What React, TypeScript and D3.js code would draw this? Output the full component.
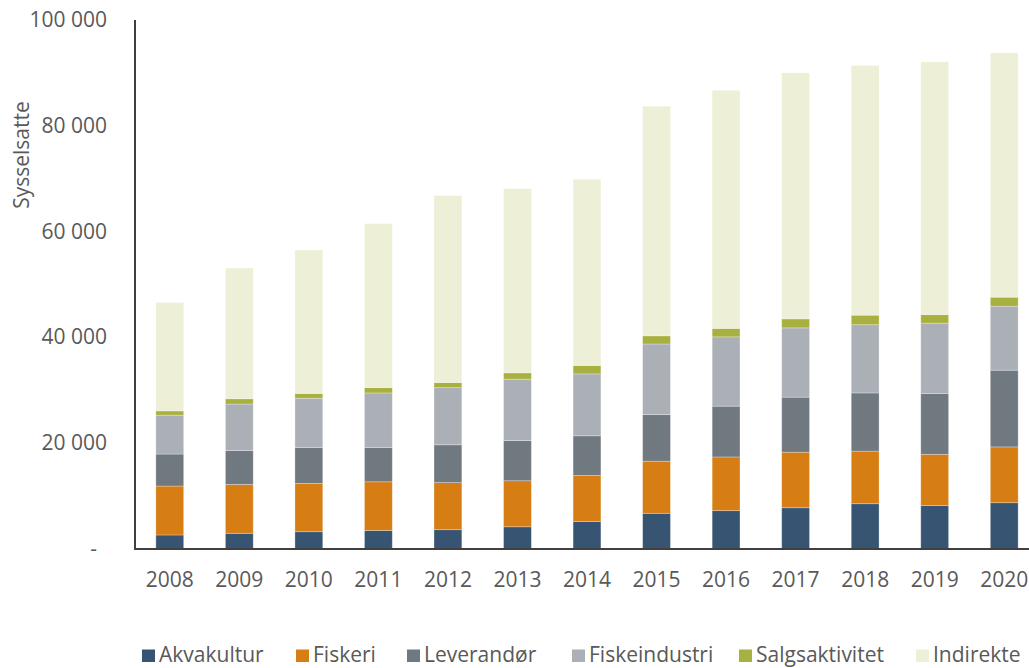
import React from "react";
import * as d3 from "d3";

const years = ["2008","2009","2010","2011","2012","2013","2014","2015","2016","2017","2018","2019","2020"];
const akvakultur = [2650, 2970, 3270, 3500, 3650, 4200, 5200, 6750, 7250, 7800, 8560, 8200, 8750];
const fiskeri = [9250, 9230, 9130, 9200, 8900, 8700, 8700, 9850, 10150, 10500, 9940, 9700, 10550];
const leverandor = [6050, 6400, 6800, 6500, 7150, 7600, 7500, 8800, 9600, 10400, 11000, 11500, 14500];
const fiskeindustri = [7350, 8800, 9300, 10300, 10800, 11600, 11700, 13350, 13100, 13100, 12900, 13300, 12100];
const salgsaktivitet = [800, 1000, 900, 1000, 950, 1200, 1600, 1550, 1600, 1700, 1800, 1600, 1700];
const indirekte = [20500, 24700, 27100, 31000, 35350, 34800, 35200, 43400, 45000, 46500, 47200, 47800, 46200];

const seriesNames = ["Akvakultur", "Fiskeri", "Leverandør", "Fiskeindustri", "Salgsaktivitet", "Indirekte"];
const seriesValues = [akvakultur, fiskeri, leverandor, fiskeindustri, salgsaktivitet, indirekte];
const seriesColors = ["#375572", "#D67D14", "#707880", "#AAB0B6", "#A8B13F", "#EDEFD6"];
const yTicks = [0, 20000, 40000, 60000, 80000, 100000];
const yTickLabels = ["-", "20 000", "40 000", "60 000", "80 000", "100 000"];

const W = 1029;
const H = 668;
const FONT = "'Open Sans', 'Liberation Sans', sans-serif";
const legendX = [142, 296, 407, 572, 739, 916];

export default function App() {
  const x = d3.scaleBand<string>().domain(years).range([135, 1039]).paddingInner(0.6).paddingOuter(0.3);
  const y = d3.scaleLinear().domain([0, 100000]).range([549, 20]);

  const rows = years.map((yr, i) => {
    const r: any = { year: yr };
    seriesNames.forEach((n, s) => (r[n] = seriesValues[s][i]));
    return r;
  });
  const stacked = d3.stack<any>().keys(seriesNames)(rows);

  return (
    <svg width={W} height={H} style={{ position: "absolute", left: 0, top: 0, background: "#fff" }}>
      <rect x={0} y={0} width={W} height={H} fill="#fff" />
      {stacked.map((layer, s) => (
        <g key={layer.key} fill={seriesColors[s]}>
          {layer.map((d, i) => (
            <rect
              key={i}
              x={x(years[i])}
              y={y(d[1])}
              width={x.bandwidth()}
              height={y(d[0]) - y(d[1])}
              stroke="#ffffff"
              strokeOpacity={0.35}
              strokeWidth={0.8}
            />
          ))}
        </g>
      ))}
      <line x1={135} x2={135} y1={20} y2={549} stroke="#404040" strokeWidth={2} />
      <line x1={134} x2={W} y1={549} y2={549} stroke="#404040" strokeWidth={2} />
      {yTicks.map((t, i) => (
        <text
          key={t}
          x={i === 0 ? 97 : 107}
          y={y(t) + 7}
          textAnchor="end"
          fontFamily={FONT}
          fontSize={21}
          fill="#595959"
        >
          {yTickLabels[i]}
        </text>
      ))}
      {years.map((yr) => (
        <text
          key={yr}
          x={(x(yr) as number) + x.bandwidth() / 2}
          y={587}
          textAnchor="middle"
          fontFamily={FONT}
          fontSize={21}
          fill="#595959"
        >
          {yr}
        </text>
      ))}
      <text
        transform="translate(29,155) rotate(-90)"
        textAnchor="middle"
        fontFamily={FONT}
        fontSize={21}
        fill="#595959"
      >
        Sysselsatte
      </text>
      {seriesNames.map((n, s) => (
        <g key={n}>
          <rect x={legendX[s]} y={649.5} width={13} height={12.5} fill={seriesColors[s]} />
          <text x={legendX[s] + 17} y={662} fontFamily={FONT} fontSize={21} fill="#595959">
            {n}
          </text>
        </g>
      ))}
    </svg>
  );
}
